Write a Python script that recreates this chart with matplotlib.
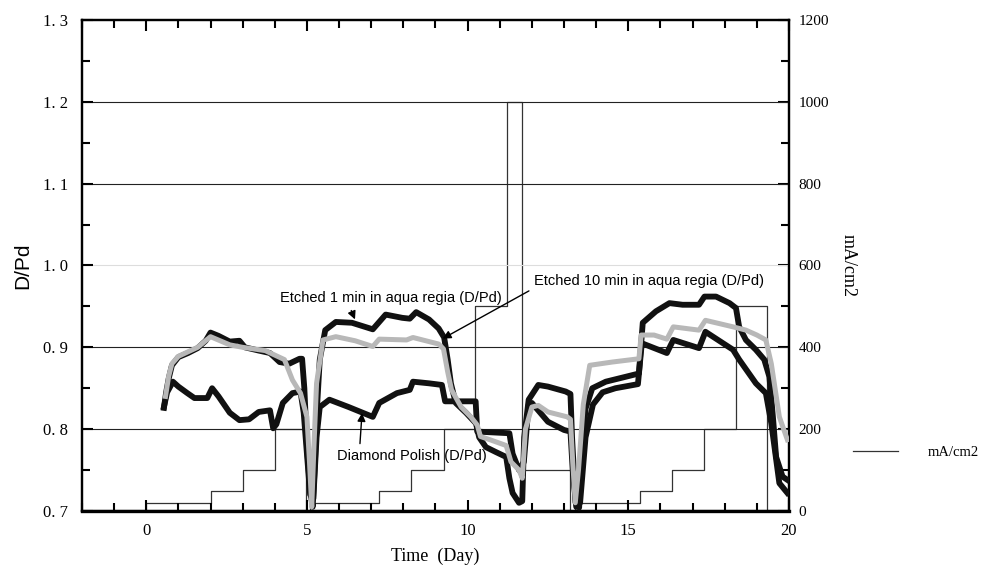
import matplotlib.pyplot as plt
from matplotlib.ticker import MultipleLocator, FuncFormatter

# Etched 1 min in aqua regia (black, upper)
days_1min = [0.55, 0.62, 0.7, 0.8, 1.0, 1.3, 1.6, 1.85, 2.0, 2.25, 2.6, 2.9, 3.07, 3.5, 3.85,
             4.15, 4.45, 4.77, 4.85, 4.92, 5.0, 5.1, 5.18, 5.25, 5.32, 5.4, 5.57, 5.9, 6.4,
             7.05, 7.25, 7.45, 7.97, 8.2, 8.4, 8.8, 9.1, 9.27, 9.38, 9.48, 9.63, 9.95, 10.26,
             10.36, 10.57, 10.88, 11.2, 11.3, 11.4, 11.6, 11.7, 11.76, 11.9, 12.2, 12.5, 13.05,
             13.2, 13.25, 13.36, 13.47, 13.57, 13.67, 13.88, 14.3, 14.92, 15.33, 15.45, 15.86,
             16.28, 16.69, 17.2, 17.37, 17.73, 18.15, 18.35, 18.45, 18.66, 18.97, 19.23, 19.39,
             19.5, 19.6, 19.8, 19.95]
dpd_1min = [0.826, 0.845, 0.862, 0.878, 0.888, 0.893, 0.899, 0.908, 0.918, 0.914, 0.907, 0.908,
            0.900, 0.896, 0.893, 0.882, 0.880, 0.886, 0.886, 0.850, 0.780, 0.725, 0.705, 0.760,
            0.830, 0.885, 0.921, 0.931, 0.930, 0.922, 0.931, 0.940, 0.936, 0.935, 0.943, 0.934,
            0.923, 0.912, 0.885, 0.856, 0.832, 0.820, 0.807, 0.790, 0.778, 0.772, 0.766, 0.740,
            0.722, 0.710, 0.712, 0.790, 0.836, 0.854, 0.852, 0.846, 0.843, 0.790, 0.710, 0.704,
            0.775, 0.825, 0.850, 0.858, 0.864, 0.868, 0.930, 0.944, 0.954, 0.952, 0.952, 0.962,
            0.962, 0.954, 0.948, 0.925, 0.909, 0.897, 0.885, 0.864, 0.815, 0.766, 0.742, 0.738]

# Etched 10 min in aqua regia (gray)
days_10min = [0.6, 0.7, 0.8, 1.0, 1.6, 2.0, 2.3, 2.6, 3.0, 3.7, 4.3, 4.55, 4.8, 5.0, 5.08, 5.15,
              5.22, 5.3, 5.5, 5.9, 6.5, 7.05, 7.25, 8.1, 8.3, 8.8, 9.1, 9.25, 9.38, 9.5, 9.8,
              10.1, 10.3, 10.4, 10.7, 11.2, 11.35, 11.6, 11.7, 11.8, 12.0, 12.2, 12.5, 13.1,
              13.2, 13.27, 13.35, 13.45, 13.6, 13.8, 14.5, 15.33, 15.4, 15.8, 16.2, 16.4, 17.2,
              17.4, 18.26, 18.66, 19.0, 19.28, 19.45, 19.7, 19.95]
dpd_10min = [0.840, 0.865, 0.880, 0.889, 0.900, 0.913, 0.908, 0.903, 0.900, 0.896, 0.885, 0.860,
             0.844, 0.815, 0.760, 0.705, 0.780, 0.856, 0.909, 0.913, 0.908, 0.901, 0.910, 0.909,
             0.912, 0.907, 0.904, 0.898, 0.870, 0.848, 0.827, 0.815, 0.805, 0.791, 0.787, 0.780,
             0.760, 0.750, 0.740, 0.800, 0.827, 0.829, 0.821, 0.815, 0.812, 0.760, 0.710, 0.750,
             0.830, 0.878, 0.882, 0.886, 0.915, 0.915, 0.910, 0.925, 0.921, 0.933, 0.925, 0.921,
             0.915, 0.909, 0.880, 0.815, 0.787]

# Diamond polish (black, lower)
days_dia = [0.55, 0.65, 0.83, 1.0, 1.28, 1.5, 1.9, 2.05, 2.25, 2.6, 2.9, 3.2, 3.5, 3.85, 3.95,
            4.05, 4.25, 4.55, 4.8, 4.9, 5.0, 5.1, 5.2, 5.3, 5.4, 5.7, 6.3, 7.05, 7.25, 7.8, 8.2,
            8.3, 8.8, 9.2, 9.3, 10.25, 10.3, 11.3, 11.4, 11.6, 11.75, 11.9, 12.0, 12.5, 13.0,
            13.2, 13.27, 13.38, 13.5, 13.67, 13.9, 14.2, 14.6, 15.3, 15.42, 16.2, 16.4, 17.2,
            17.4, 18.26, 18.45, 18.97, 19.28, 19.45, 19.7, 19.95]
dpd_dia = [0.827, 0.845, 0.858, 0.852, 0.844, 0.838, 0.838, 0.850, 0.840, 0.820, 0.811, 0.812,
           0.821, 0.823, 0.801, 0.806, 0.832, 0.844, 0.846, 0.820, 0.770, 0.720, 0.715, 0.790,
           0.827, 0.836, 0.827, 0.815, 0.832, 0.844, 0.848, 0.858, 0.856, 0.854, 0.834, 0.834,
           0.797, 0.795, 0.770, 0.750, 0.760, 0.830, 0.832, 0.809, 0.799, 0.797, 0.750, 0.705,
           0.710, 0.790, 0.830, 0.845, 0.850, 0.855, 0.905, 0.893, 0.909, 0.899, 0.919, 0.897,
           0.885, 0.856, 0.844, 0.807, 0.734, 0.722]

# current density steps (mA/cm2)
days_cur = [0, 0, 2, 3, 4, 4.97, 5.1, 7.25, 8.25, 9.27, 10.24, 11.22, 11.7, 13.2, 13.35,
            15.35, 16.35, 17.35, 18.35, 19.33, 20]
cur = [0, 20, 50, 100, 200, 0, 20, 50, 100, 200, 500, 1000, 100, 0, 20, 50, 100, 200, 500, 0, 0]

serif = "Liberation Serif"
sans = "Liberation Sans"

fig = plt.figure(figsize=(9.85, 5.68), dpi=100)
ax = fig.add_axes([0.0832, 0.1004, 0.7178, 0.8644])
ax2 = ax.twinx()

cur_line, = ax2.plot(days_cur, cur, drawstyle="steps-post", color="#333333", lw=0.9)
ax2.set_ylim(0, 1200)

ax.plot(days_1min, dpd_1min, color="#111111", lw=4.2, solid_joinstyle="round", zorder=3)
ax.plot(days_dia, dpd_dia, color="#111111", lw=4.2, solid_joinstyle="round", zorder=3)
ax.plot(days_10min, dpd_10min, color="#b8b8b8", lw=3.6, solid_joinstyle="round", zorder=4)
ax.set_zorder(ax2.get_zorder() + 1)
ax.patch.set_visible(False)

ax.set_xlim(-2, 20)
ax.set_ylim(0.7, 1.3)
ax.xaxis.set_major_locator(MultipleLocator(5))
ax.xaxis.set_minor_locator(MultipleLocator(1))
ax.yaxis.set_major_locator(MultipleLocator(0.1))
ax.yaxis.set_minor_locator(MultipleLocator(0.05))
ax.yaxis.set_major_formatter(FuncFormatter(lambda v, p: f"{v:.1f}".replace(".", ". ")))
ax.tick_params(which="both", direction="in", top=True, width=1.5)
ax.tick_params(which="major", length=8)
ax.tick_params(which="minor", length=6)
ax.tick_params(axis="y", pad=10)
ax.tick_params(axis="x", pad=9)
for lab in ax.get_xticklabels() + ax.get_yticklabels():
    lab.set_fontfamily(serif)
    lab.set_fontsize(12)

ax2.yaxis.set_major_locator(MultipleLocator(200))
ax2.yaxis.set_minor_locator(MultipleLocator(100))
ax2.tick_params(which="both", direction="in", width=1.5, pad=7)
ax2.tick_params(which="major", length=8)
ax2.tick_params(which="minor", length=6)
for lab in ax2.get_yticklabels():
    lab.set_fontfamily(serif)
    lab.set_fontsize(11)

# horizontal reference lines
for yv in [0.8, 0.9, 1.0, 1.1, 1.2]:
    ax.axhline(yv, color="#dddddd" if yv == 1.0 else "#222222", lw=0.8, zorder=1)

for s in ax.spines.values():
    s.set_linewidth(1.6)
ax.spines["bottom"].set_linewidth(2.4)
for s in ax2.spines.values():
    s.set_linewidth(1.6)

ax.set_xlabel("Time  (Day)", fontfamily=serif, fontsize=13, labelpad=6)
ax.set_ylabel("D/Pd", fontfamily=sans, fontsize=15, labelpad=8)
ax2.set_ylabel("mA/cm2", fontfamily=serif, fontsize=13, rotation=270, labelpad=20)

arrow = dict(arrowstyle="-|>", color="black", lw=1.0, mutation_scale=12)
ax.annotate("Etched 1 min in aqua regia (D/Pd)", xy=(6.53, 0.931), xytext=(4.17, 0.960),
            fontfamily=sans, fontsize=10.5, va="center", ha="left",
            arrowprops=dict(arrow, relpos=(0.31, 0.0)))
ax.annotate("Etched 10 min in aqua regia (D/Pd)", xy=(9.15, 0.909), xytext=(12.07, 0.981),
            fontfamily=sans, fontsize=10.5, va="center", ha="left",
            arrowprops=dict(arrow, relpos=(0.0, 0.0)))
ax.annotate("Diamond Polish (D/Pd)", xy=(6.72, 0.823), xytext=(5.94, 0.767),
            fontfamily=sans, fontsize=10.5, va="center", ha="left",
            arrowprops=dict(arrow, relpos=(0.15, 1.0)))

fig.legend(handles=[cur_line], labels=["mA/cm2"], loc="center left",
           bbox_to_anchor=(0.866, 0.204), frameon=False, handlelength=3.1,
           handletextpad=2.0, borderaxespad=0, borderpad=0,
           prop={"family": serif, "size": 10.5})

fig.savefig("out.png", dpi=100)
